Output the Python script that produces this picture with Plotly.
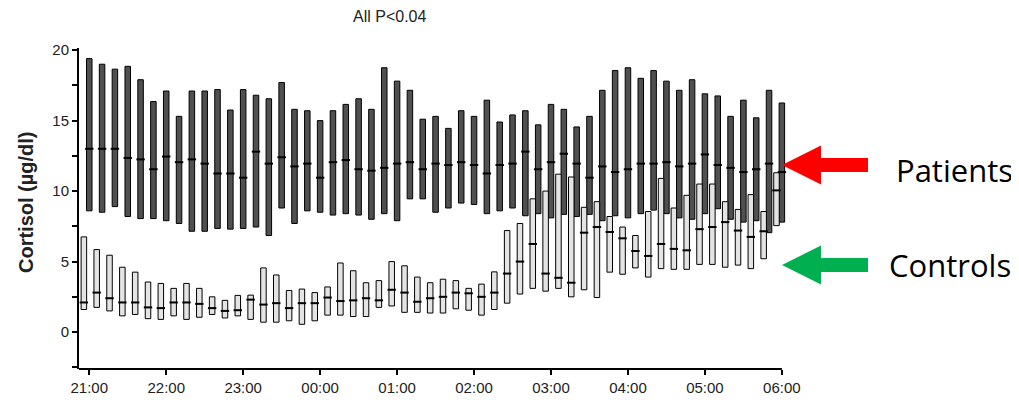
import plotly.graph_objects as go

# ---------------- data (minutes after 21:00, every 10 min) ----------------
minutes = list(range(0, 541, 10))
tick_vals = list(range(0, 541, 60))
tick_text = ["21:00", "22:00", "23:00", "00:00", "01:00", "02:00", "03:00",
             "04:00", "05:00", "06:00"]

pat_low = [8.6, 8.5, 8.9, 8.2, 8.05, 8.05, 7.9, 7.7, 7.15, 7.15, 7.35, 7.3, 7.35, 7.45,
           6.85, 8.8, 7.7, 8.6, 8.5, 8.3, 8.4, 8.3, 8.0, 8.4, 7.9, 9.45, 9.45, 8.5,
           8.8, 9.15, 9.05, 8.4, 8.6, 8.8, 8.25, 8.4, 8.1, 8.35, 8.2, 8.35, 7.9, 8.25,
           8.1, 8.4, 8.65, 8.4, 8.1, 8.0, 8.4, 8.75, 8.0, 7.8, 7.9, 7.05, 7.8]
pat_med = [13.0, 13.0, 13.0, 12.35, 12.25, 11.55, 12.45, 12.05, 12.25, 11.95, 11.25, 11.25,
           10.95, 12.8, 11.95, 12.4, 11.75, 11.95, 10.95, 12.05, 12.2, 11.55, 11.45, 11.65,
           11.95, 12.05, 11.55, 11.95, 11.85, 12.05, 11.85, 11.25, 11.85, 11.95, 12.8, 11.55,
           12.05, 12.65, 11.95, 10.95, 11.75, 11.35, 11.55, 11.95, 11.95, 12.05, 11.75, 11.95,
           12.6, 11.85, 11.65, 11.35, 11.55, 11.95, 11.35]
pat_high = [19.4, 19.0, 18.65, 18.85, 17.9, 16.35, 17.1, 15.3, 17.1, 17.1, 17.2, 15.75, 17.2,
            16.8, 16.55, 17.7, 15.8, 15.7, 15.0, 15.7, 16.15, 16.55, 15.8, 18.75, 17.8, 17.15,
            15.1, 15.3, 14.45, 15.7, 15.3, 16.45, 14.9, 15.4, 15.7, 14.7, 16.15, 15.8, 14.55,
            15.3, 17.15, 18.55, 18.75, 18.0, 18.55, 17.8, 17.15, 17.9, 16.9, 16.75, 15.3, 16.45,
            15.2, 17.15, 16.25]

ctl_low = [1.6, 1.75, 1.5, 1.15, 1.25, 0.95, 0.9, 1.15, 0.9, 1.05, 1.25, 1.0, 1.15, 0.9,
           0.7, 0.7, 0.8, 0.55, 0.8, 1.2, 1.2, 1.1, 1.1, 1.75, 1.85, 1.4, 1.4, 1.35,
           1.35, 1.65, 1.55, 1.2, 1.6, 2.05, 2.7, 3.1, 2.9, 3.1, 2.5, 3.0, 2.45, 4.25,
           4.1, 4.55, 3.9, 4.5, 4.45, 4.45, 4.8, 4.8, 4.6, 4.75, 4.5, 5.2, 7.55]
ctl_med = [2.1, 2.8, 2.4, 2.1, 2.1, 1.75, 1.7, 2.1, 2.1, 2.0, 1.7, 1.5, 1.55, 2.3,
           1.95, 2.05, 1.7, 2.05, 2.05, 2.45, 2.2, 2.25, 2.4, 2.25, 3.0, 2.8, 2.15, 2.4,
           2.5, 2.8, 2.75, 2.5, 2.8, 4.15, 5.0, 6.25, 4.15, 3.85, 3.5, 7.05, 7.45, 7.1,
           6.65, 5.75, 5.4, 6.25, 5.9, 5.8, 7.3, 7.45, 7.8, 7.2, 6.75, 7.15, 10.05]
ctl_high = [6.75, 5.85, 5.45, 4.6, 4.25, 3.55, 3.45, 3.1, 3.45, 3.1, 2.5, 2.25, 2.6, 2.62,
            4.55, 4.05, 2.95, 3.05, 2.8, 3.2, 4.9, 4.35, 3.5, 3.65, 5.0, 4.7, 3.9, 3.5,
            3.75, 3.65, 3.1, 3.4, 4.27, 7.2, 7.7, 9.45, 10.0, 11.2, 11.0, 8.85, 9.25, 8.2,
            7.45, 6.85, 8.55, 10.9, 8.8, 9.7, 10.5, 10.5, 9.25, 8.7, 9.75, 8.55, 11.3]

# ---------------- layout constants ----------------
# the page body has an 8 px margin, so the figure is drawn 8 px in from the window edge
OFF = 8
FIG_W, FIG_H = 1019 - OFF, 400 - OFF
ML, MR, MT, MB = 79 - OFF, 232, 48 - OFF, 31
W = FIG_W - ML - MR
H = FIG_H - MT - MB
CTL_SHIFT = -4.2
BAR_W = 4.3


def px(x):
    """window pixel x -> paper coordinate"""
    return (x - OFF - ML) / W


def py(y):
    """window pixel y -> paper coordinate"""
    return (FIG_H - MB - (y - OFF)) / H


fig = go.Figure()

fig.add_trace(go.Bar(
    x=minutes, base=pat_low, y=[h - l for h, l in zip(pat_high, pat_low)],
    width=BAR_W, marker=dict(color="#505050", line=dict(color="black", width=1)),
    name="Patients", showlegend=False))
fig.add_trace(go.Bar(
    x=[m + CTL_SHIFT for m in minutes], base=ctl_low,
    y=[h - l for h, l in zip(ctl_high, ctl_low)],
    width=BAR_W, marker=dict(color="#e4e4e4", line=dict(color="black", width=1)),
    name="Controls", showlegend=False))
fig.add_trace(go.Scatter(
    x=minutes, y=pat_med, mode="markers",
    marker=dict(symbol="line-ew", size=6, line=dict(color="black", width=2)),
    showlegend=False, cliponaxis=False))
fig.add_trace(go.Scatter(
    x=[m + CTL_SHIFT for m in minutes], y=ctl_med, mode="markers",
    marker=dict(symbol="line-ew", size=6, line=dict(color="black", width=2)),
    showlegend=False, cliponaxis=False))

fig.update_layout(
    barmode="overlay",
    width=FIG_W, height=FIG_H,
    margin=dict(l=ML, r=MR, t=MT, b=MB, autoexpand=False),
    paper_bgcolor="white", plot_bgcolor="white",
    font=dict(family="Liberation Sans Narrow, Arial Narrow, Liberation Sans, Arial",
              size=15, color="#222"),
    xaxis=dict(range=[-8, 544], tickvals=tick_vals, ticktext=tick_text,
               automargin=False,
               showgrid=False, zeroline=False, showline=False,
               ticks="outside", ticklen=5, tickwidth=1.5, tickcolor="black"),
    yaxis=dict(range=[-2.62, 20.15], tickvals=[0, 5, 10, 15, 20],
               automargin=False,
               showgrid=False, zeroline=False, showline=True, linecolor="black",
               linewidth=2, ticks="outside", ticklen=5, tickwidth=1.5,
               tickcolor="black",
               minor=dict(dtick=2.5, ticks="outside", ticklen=5, tickwidth=1.5,
                          tickcolor="black", showgrid=False)),
)

# x axis line (ends at 06:00)
fig.add_shape(type="line", xref="x", yref="paper", x0=-9, x1=540, y0=0, y1=0,
              line=dict(color="black", width=2))


def arrow_path(tip_x, cy):
    pts = [(tip_x, cy), (tip_x + 39, cy - 19.5), (tip_x + 39, cy - 7),
           (tip_x + 86, cy - 7), (tip_x + 86, cy + 7), (tip_x + 39, cy + 7),
           (tip_x + 39, cy + 19.5)]
    return "M " + " L ".join(f"{px(a):.5f},{py(b):.5f}" for a, b in pts) + " Z"


fig.add_shape(type="path", xref="paper", yref="paper", path=arrow_path(782, 165),
              fillcolor="#ff0000", line=dict(width=0))
fig.add_shape(type="path", xref="paper", yref="paper", path=arrow_path(782, 265),
              fillcolor="#00b050", line=dict(width=0))

fig.add_annotation(text="Patients", xref="paper", yref="paper", x=px(894), y=py(170),
                   xanchor="left", yanchor="middle", showarrow=False,
                   font=dict(family="Open Sans", size=31, color="black"))
fig.add_annotation(text="Controls", xref="paper", yref="paper", x=px(887), y=py(265),
                   xanchor="left", yanchor="middle", showarrow=False,
                   font=dict(family="Open Sans", size=31, color="black"))
fig.add_annotation(text="All P<0.04", xref="paper", yref="paper", x=px(389), y=py(16),
                   xanchor="center", yanchor="middle", showarrow=False,
                   font=dict(size=16, color="#222"))
fig.add_annotation(text="<b>Cortisol (µg/dl)</b>", xref="paper", yref="paper",
                   x=px(26), y=py(202), xanchor="center", yanchor="middle",
                   textangle=-90, showarrow=False,
                   font=dict(family="Liberation Sans, Arial", size=20, color="#222"))

fig.write_html("out.html")
